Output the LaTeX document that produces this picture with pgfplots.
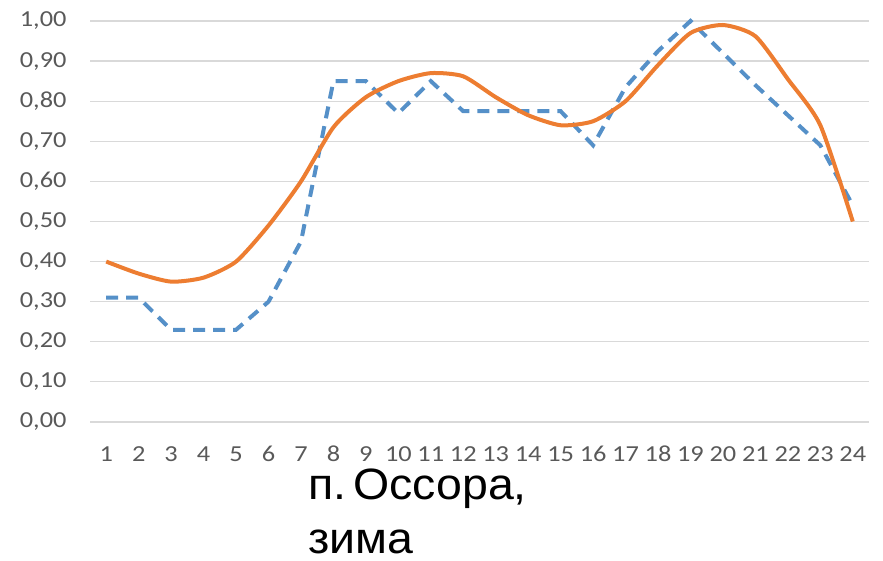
\documentclass[border=0pt]{standalone}
\usepackage{pgfplots}
\pgfplotsset{compat=1.18}
\usepackage{fontspec}
\setmainfont[FakeStretch=1.15]{Carlito}
\newfontfamily\titlefont[FakeStretch=1.06]{Liberation Sans}
\definecolor{gridc}{HTML}{D9D9D9}
\definecolor{tickc}{HTML}{595959}
\definecolor{blueS}{HTML}{5590C8}
\definecolor{orangeS}{HTML}{ED7D31}
\begin{document}
\begin{tikzpicture}[x=1bp,y=1bp]
\useasboundingbox (0,0) rectangle (883,561);
\begin{axis}[
  at={(90bp,139bp)}, anchor=south west,
  scale only axis, width=779bp, height=401bp,
  xmin=0.5, xmax=24.5, ymin=0, ymax=1,
  xtick={1,...,24},
  ytick={0,0.1,...,1.0},
  ymajorgrids, grid style={gridc, line width=1.2bp},
  axis line style={draw=none},
  major tick length=0pt,
  clip=false,
  /pgf/number format/assume math mode=true,
  yticklabel style={/pgf/number format/fixed, /pgf/number format/fixed zerofill, /pgf/number format/precision=2, /pgf/number format/use comma, xshift=-20bp},
  ticklabel style={font=\fontsize{23}{26}\selectfont, text=tickc},
  xticklabel style={anchor=base, yshift=-40bp},
]
\addplot[blueS, line width=4bp, dash pattern=on 12bp off 8bp] coordinates {
(1,0.31)(2,0.31)(3,0.23)(4,0.23)(5,0.23)(6,0.30)(7,0.45)(8,0.85)(9,0.85)(10,0.77)(11,0.85)(12,0.775)
(13,0.775)(14,0.775)(15,0.775)(16,0.69)(17,0.835)(18,0.925)(19,1.00)(20,0.92)(21,0.84)(22,0.765)(23,0.69)(24,0.54)};
\addplot[orangeS, line width=4bp, smooth, tension=0.4] coordinates {
(1,0.40)(2,0.37)(3,0.35)(4,0.36)(5,0.40)(6,0.49)(7,0.60)(8,0.735)(9,0.81)(10,0.85)(11,0.87)(12,0.862)
(13,0.81)(14,0.765)(15,0.74)(16,0.75)(17,0.80)(18,0.89)(19,0.97)(20,0.99)(21,0.962)(22,0.855)(23,0.74)(24,0.50)};
\end{axis}
\node[anchor=base west, inner sep=0pt, font=\titlefont\fontsize{44}{50}\selectfont] at (308,61) {п.\hspace{0.16em}Оссора,};
\node[anchor=base west, inner sep=0pt, font=\titlefont\fontsize{44}{50}\selectfont] at (308,7) {зима};
\end{tikzpicture}
\end{document}
